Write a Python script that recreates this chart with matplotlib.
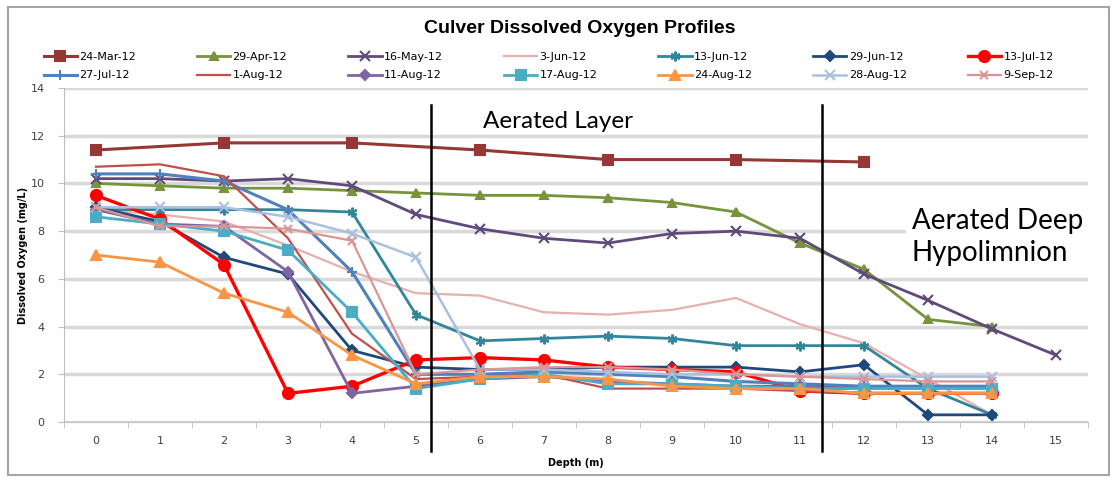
import matplotlib
matplotlib.use("Agg")
import matplotlib.pyplot as plt
from matplotlib.patches import Rectangle

# dissolved oxygen (mg/L) by depth (m)
d_even = [0, 2, 4, 6, 8, 10, 12]
d_14 = list(range(0, 15))
d_15 = list(range(0, 16))

mar24 = [11.4, 11.7, 11.7, 11.4, 11.0, 11.0, 10.9]
apr29 = [10.0, 9.9, 9.8, 9.8, 9.7, 9.6, 9.5, 9.5, 9.4, 9.2, 8.8, 7.5, 6.4, 4.3, 4.0]
may16 = [10.2, 10.2, 10.1, 10.2, 9.9, 8.7, 8.1, 7.7, 7.5, 7.9, 8.0, 7.7, 6.2, 5.1, 3.9, 2.8]
jun3 = [8.9, 8.7, 8.4, 7.4, 6.3, 5.4, 5.3, 4.6, 4.5, 4.7, 5.2, 4.1, 3.3, 1.8, 0.3]
jun13 = [8.9, 8.9, 8.9, 8.9, 8.8, 4.5, 3.4, 3.5, 3.6, 3.5, 3.2, 3.2, 3.2, 1.4, 0.3]
jun29 = [9.0, 8.4, 6.9, 6.2, 3.0, 2.3, 2.2, 2.2, 2.3, 2.3, 2.3, 2.1, 2.4, 0.3, 0.3]
jul13 = [9.5, 8.5, 6.6, 1.2, 1.5, 2.6, 2.7, 2.6, 2.3, 2.2, 2.1, 1.3, 1.2, 1.2, 1.2]
jul27 = [10.4, 10.4, 10.1, 8.9, 6.3, 2.0, 2.0, 2.1, 2.0, 1.9, 1.7, 1.6, 1.5, 1.5, 1.5]
aug1 = [10.7, 10.8, 10.3, 7.7, 3.7, 1.8, 1.9, 2.0, 1.4, 1.4, 1.4, 1.3, 1.2, 1.2, 1.2]
aug11 = [8.9, 8.3, 8.2, 6.3, 1.2, 1.5, 1.8, 1.9, 1.7, 1.6, 1.5, 1.5, 1.4, 1.4, 1.4]
aug17 = [8.6, 8.3, 8.0, 7.2, 4.6, 1.4, 1.8, 2.0, 1.6, 1.6, 1.5, 1.4, 1.4, 1.4, 1.4]
aug24 = [7.0, 6.7, 5.4, 4.6, 2.8, 1.6, 1.9, 1.9, 1.8, 1.5, 1.4, 1.4, 1.2, 1.2, 1.2]
aug28 = [9.0, 9.0, 9.0, 8.6, 7.9, 6.9, 2.2, 2.2, 2.1, 2.0, 2.0, 1.9, 1.9, 1.9, 1.9]
sep9 = [9.0, 8.2, 8.2, 8.1, 7.6, 2.0, 2.2, 2.3, 2.3, 2.2, 2.0, 1.9, 1.8, 1.7, 1.7]

labels = ['24-Mar-12', '29-Apr-12', '16-May-12', '3-Jun-12', '13-Jun-12', '29-Jun-12', '13-Jul-12',
          '27-Jul-12', '1-Aug-12', '11-Aug-12', '17-Aug-12', '24-Aug-12', '28-Aug-12', '9-Sep-12']
series = [(d_even, mar24), (d_14, apr29), (d_15, may16), (d_14, jun3), (d_14, jun13), (d_14, jun29),
          (d_14, jul13), (d_14, jul27), (d_14, aug1), (d_14, aug11), (d_14, aug17), (d_14, aug24),
          (d_14, aug28), (d_14, sep9)]
colors = ['#953735', '#77933C', '#604A7B', '#E6B0AE', '#31859C', '#1F497D', '#FF0000',
          '#4F81BD', '#C0504D', '#8064A2', '#4BACC6', '#F79646', '#A9C0E0', '#D99694']
markers = ['s', '^', 'x', None, (6, 2, 0), 'D', 'o', '+', None, 'D', 's', '^', 'x', 'x']
msizes = [7, 6, 7, 0, 7, 5, 8, 7, 0, 5, 7, 7, 7, 6]
widths = [2.2, 2.0, 2.0, 1.6, 2.0, 2.0, 2.4, 2.2, 1.6, 2.0, 2.0, 2.0, 1.8, 1.6]

# hand-drawn layer boundaries (depth, m)
boundaries = [5.23, 11.35]

fig = plt.figure(figsize=(11.15, 4.79), dpi=100)
ax = fig.add_axes([64 / 1115, 57 / 479, 1024 / 1115, 334 / 479])

handles = []
for i in range(len(labels)):
    x, y = series[i]
    h, = ax.plot(x, y, color=colors[i], marker=markers[i], markersize=msizes[i],
                 linewidth=widths[i], markeredgewidth=1.5, label=labels[i], zorder=3)
    handles.append(h)

ax.set_xlim(-0.5, 15.5)
ax.set_ylim(0, 14)
ax.set_yticks(range(0, 15, 2))
ax.set_xticks(range(0, 16))
ax.set_xticks([k - 0.5 for k in range(0, 17)], minor=True)
ax.tick_params(axis='x', which='major', length=0, pad=10, labelsize=8, labelcolor='#404040')
ax.tick_params(axis='x', which='minor', length=4, color='#BFBFBF')
ax.tick_params(axis='y', length=4, color='#BFBFBF', labelsize=8, labelcolor='#404040', pad=10)
ax.grid(axis='y', color='#D9D9D9', linewidth=2.5, zorder=0)
ax.set_axisbelow(True)
for side in ['top', 'right']:
    ax.spines[side].set_visible(False)
ax.spines['left'].set_color('#BFBFBF')
ax.spines['bottom'].set_color('#BFBFBF')

ax.set_xlabel('Depth (m)', fontsize=7, fontweight='bold', labelpad=9)
ax.set_ylabel('Dissolved Oxygen (mg/L)', fontsize=7, fontweight='bold', labelpad=2)

for b in boundaries:
    ax.plot([b, b], [-1.2, 13.3], color='black', linewidth=1.8, clip_on=False, zorder=4)

ax.text(6.05, 12.6, 'Aerated Layer', fontsize=17.5, family='Lato', va='center', ha='left', zorder=5)
ax.text(12.75, 7.75, 'Aerated Deep\nHypolimnion', fontsize=20, family='Lato', va='center', ha='left',
        linespacing=1.3, zorder=5,
        bbox=dict(facecolor='white', edgecolor='none', pad=4))

fig.suptitle('Culver Dissolved Oxygen Profiles', x=0.52, y=0.958, fontsize=14,
             fontweight='bold', family='Liberation Sans')

order = []
for k in range(7):
    order += [k, k + 7]
fig.legend([handles[k] for k in order], [labels[k] for k in order], loc='upper center',
           bbox_to_anchor=(0.492, 0.912), ncol=7, frameon=False, fontsize=8,
           columnspacing=5.5, handlelength=3.0, handletextpad=0.2, labelspacing=0.75)

fig.patches.append(Rectangle((0.007, 0.008), 0.988, 0.978, transform=fig.transFigure,
                             fill=False, edgecolor='#A6A6A6', linewidth=1.5))

fig.savefig('out.png', dpi=100)
